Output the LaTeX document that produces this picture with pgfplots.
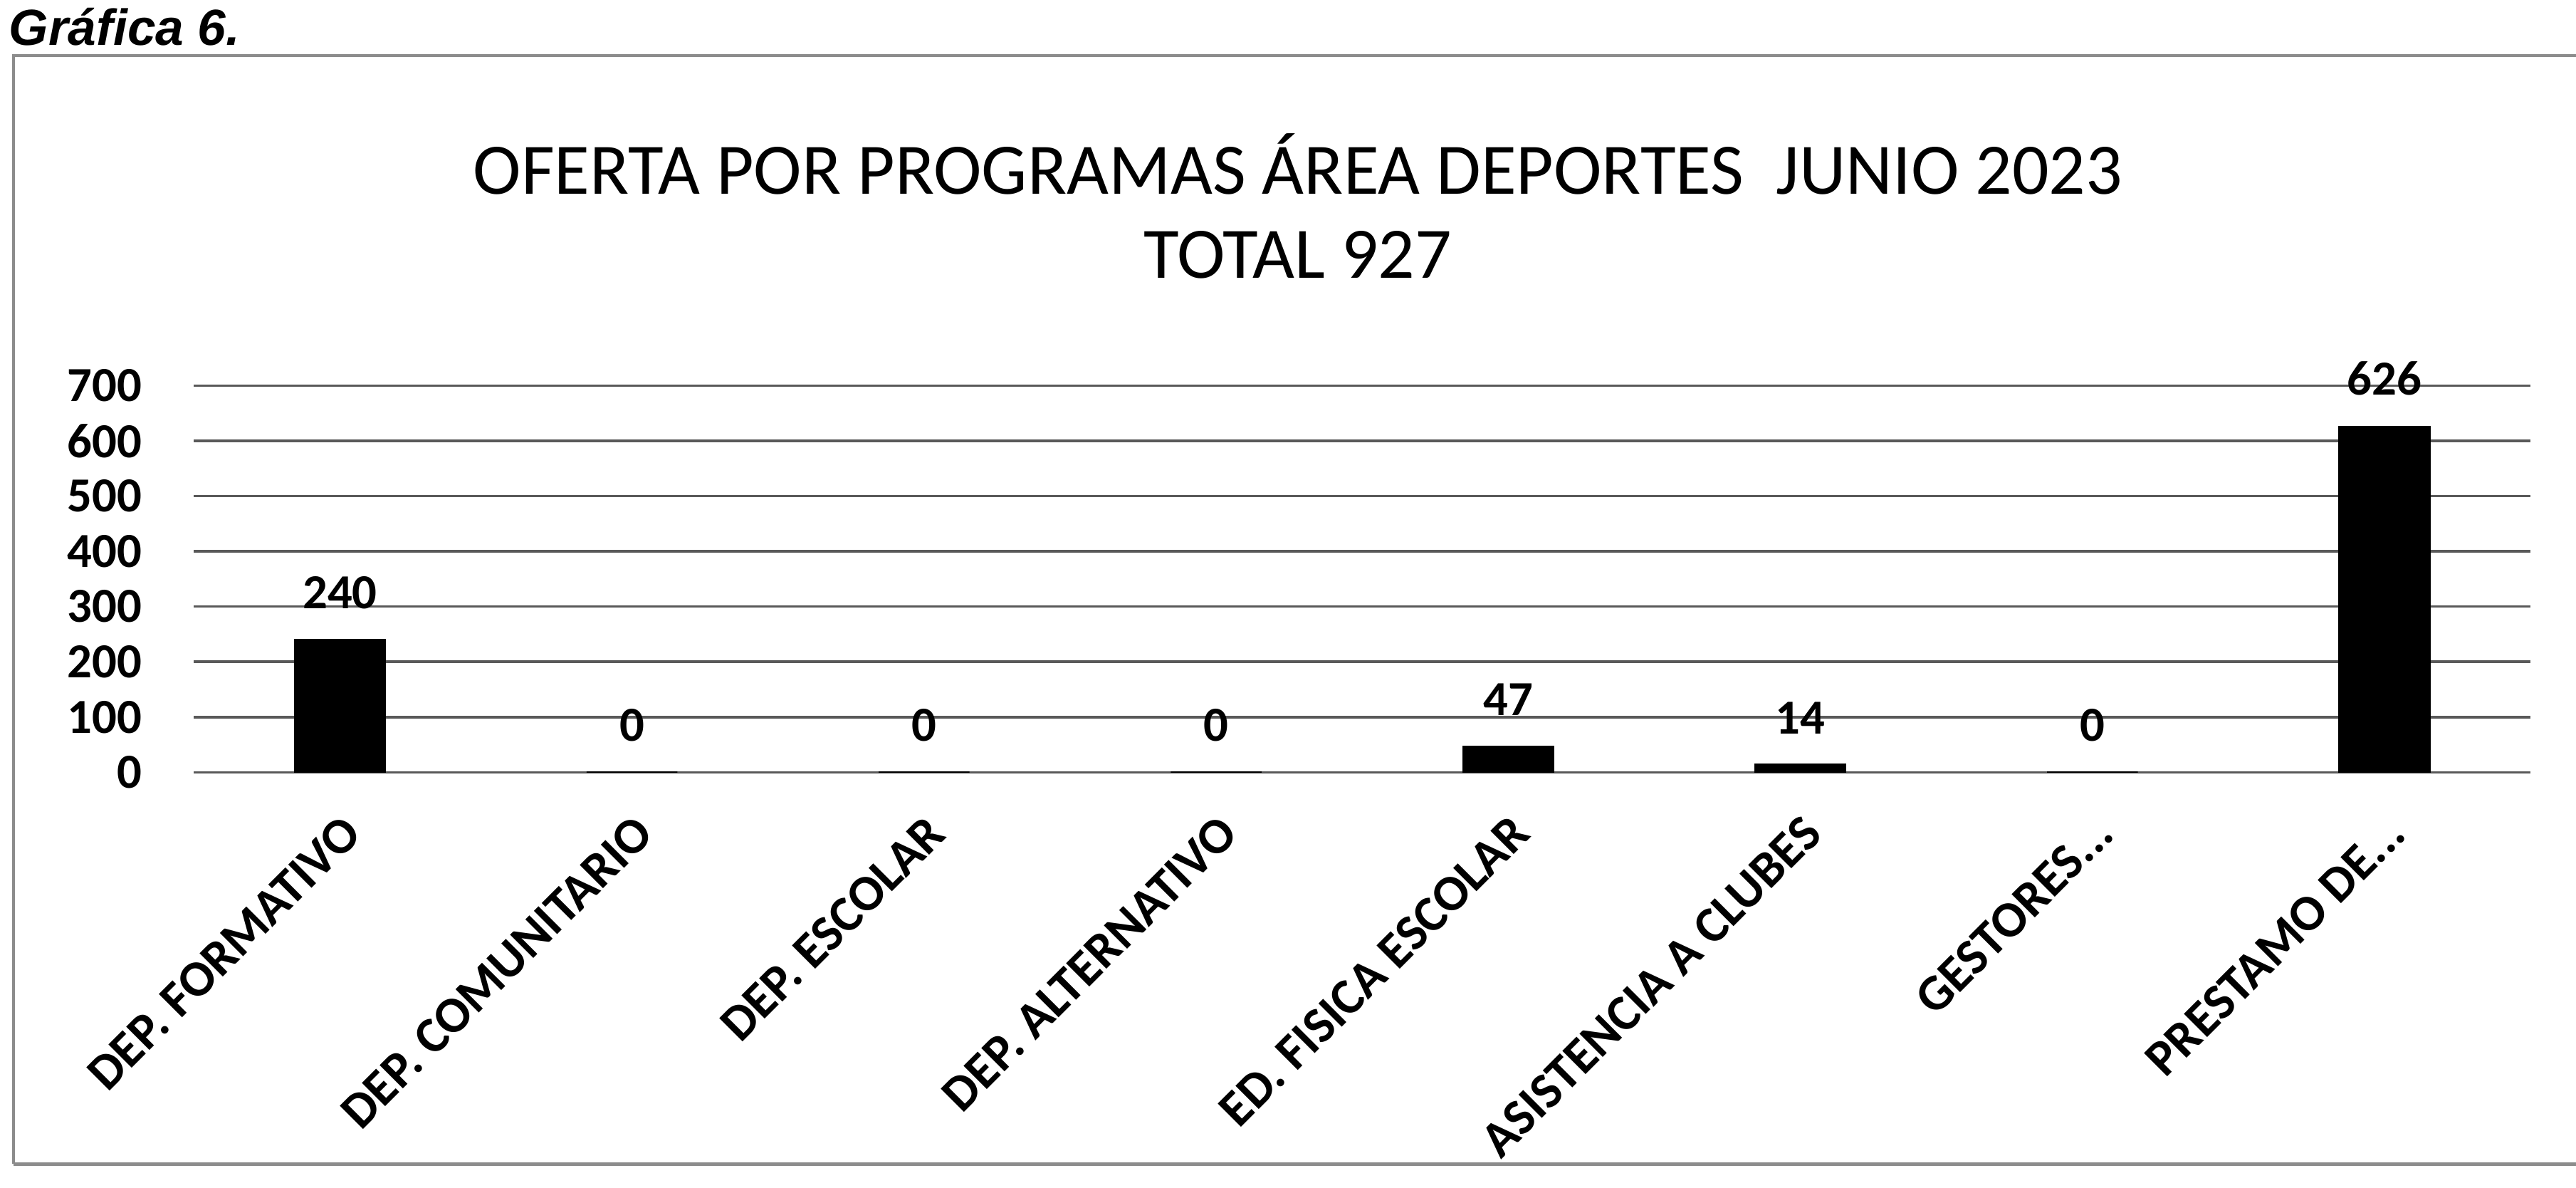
\documentclass[border=0pt]{standalone}
\usepackage{fontspec}
\setmainfont{Carlito}
\newfontfamily\arialfont{Liberation Sans}
\usepackage{pgfplots}
\pgfplotsset{compat=1.18}

\begin{document}
\begin{tikzpicture}
% page frame taken from the scan's proportions
\path[use as bounding box] (-1.881,-4.03) rectangle (23.11,7.49);
\draw[black!45, line width=0.8pt] (-1.75,-3.80) -- (-1.75,6.95) -- (23.11,6.95);
\draw[black!45, line width=0.8pt] (-1.75,-3.80) -- (23.11,-3.80);
\node[anchor=base west, inner sep=0, font=\arialfont\bfseries\itshape\fontsize{14}{16}\selectfont]
  at (-1.80,7.05) {Gráfica 6.};

\begin{axis}[
    at={(0,0)},
    scale only axis,
    width=22.67cm,
    height=3.75cm,
    ybar,
    bar width=0.88cm,
    xmin=-0.5, xmax=7.5,
    ymin=0, ymax=700,
    ytick={0,100,...,700},
    xtick={0,...,7},
    xticklabels={{DEP. FORMATIVO}, {DEP. COMUNITARIO}, {DEP. ESCOLAR}, {DEP. ALTERNATIVO},
                 {ED. FISICA ESCOLAR}, {ASISTENCIA A CLUBES}, {GESTORES.{}.{}.}, {PRESTAMO DE.{}.{}.}},
    x tick label style={yshift=-0.22cm, rotate=45, anchor=north east, font=\bfseries\fontsize{14}{16}\selectfont},
    y tick label style={xshift=-0.38cm, font=\bfseries\fontsize{13.5}{16}\selectfont},
    /pgf/number format/assume math mode=true,
    ymajorgrids,
    grid style={black!65, line width=0.7pt},
    axis line style={draw=none},
    major tick length=0pt,
    nodes near coords,
    every node near coord/.append style={font=\bfseries\fontsize{13.5}{16}\selectfont, text=black, yshift=5pt},
    clip=false,
]
\addplot[fill=black, draw=black] coordinates {
    (0,240) (1,0) (2,0) (3,0) (4,47) (5,14) (6,0) (7,626)
};
\end{axis}

\node[font=\fontsize{20}{24}\selectfont] at (10.71,5.90) {OFERTA POR PROGRAMAS ÁREA DEPORTES\ \ JUNIO 2023};
\node[font=\fontsize{20}{24}\selectfont] at (10.71,5.02) {TOTAL 927};
\end{tikzpicture}
\end{document}
